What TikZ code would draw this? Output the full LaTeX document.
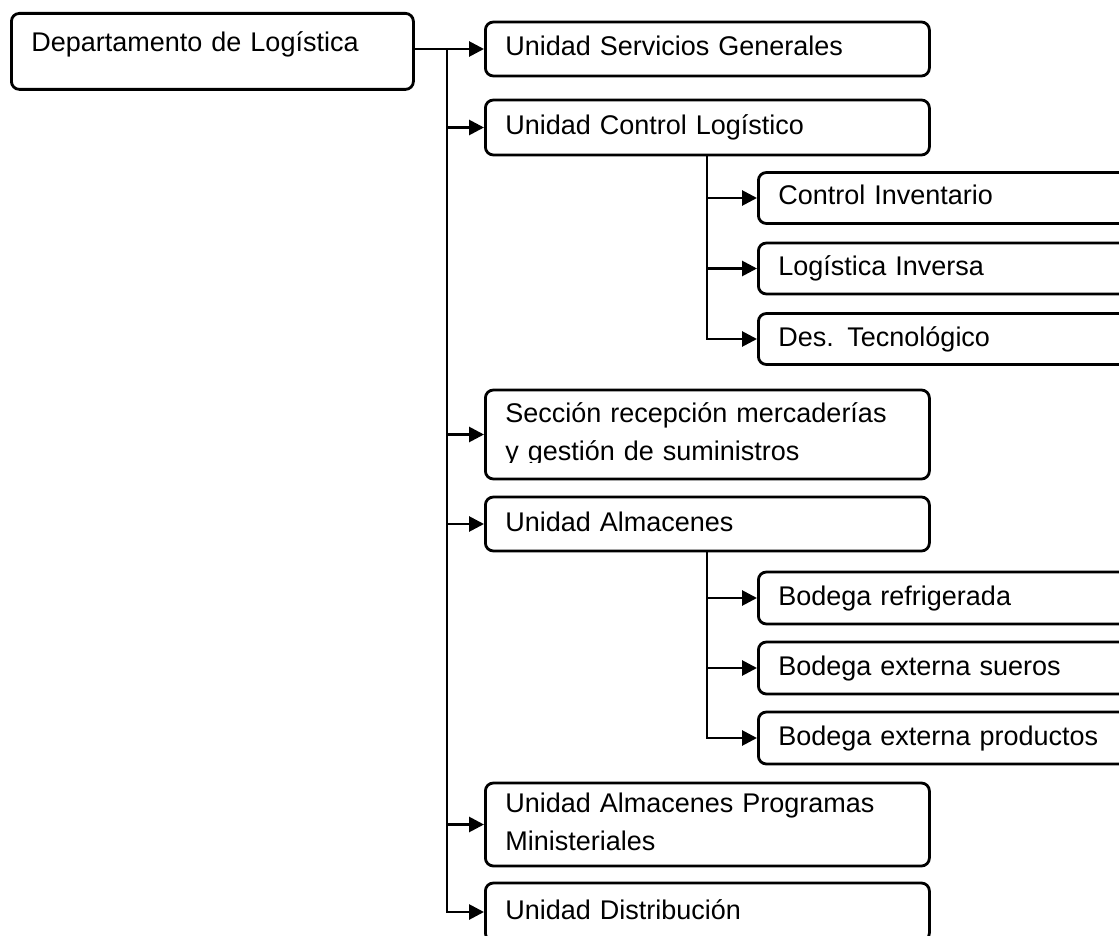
\documentclass[tikz,border=0pt]{standalone}
\usepackage{fontspec}
\setmainfont{Liberation Sans}
\usetikzlibrary{arrows.meta}
\begin{document}
\begin{tikzpicture}[x=1pt,y=-1pt,
  box/.style={draw=black, line width=2.8pt, rounded corners=8pt, fill=white,
    anchor=west, inner xsep=20pt, inner ysep=0pt, align=left,
    font=\fontsize{27}{38}\selectfont, text height=20pt, text depth=6pt},
  unit/.style={box, text width=404pt},
  sub/.style={box, text width=343pt},
  twoline/.style={text depth=44pt},
  link/.style={line width=2.8pt, -{Triangle[length=15pt,width=15pt]}}]

\useasboundingbox (0,0) rectangle (1119,936);
\fill[white] (0,0) rectangle (1119,936);
\clip (0,0) rectangle (1119,936);

% department and its units
\node[box, text width=362pt, minimum height=76pt, text depth=20.6pt,
      anchor=north west] (root) at (10,12) {Departamento de Logística};
\node[unit, minimum height=54pt] (serv) at (484,49) {Unidad Servicios Generales};
\node[unit, minimum height=55pt] (ctrl) at (484,127.5) {Unidad Control Logístico};

% sections under the control unit
\node[sub, minimum height=51pt] (inv) at (757,198) {Control Inventario};
\node[sub, minimum height=51pt] (inver) at (757,268.5) {Logística Inversa};
\node[sub, minimum height=51pt] (tec) at (757,339) {Des. Tecnológico};

% reception box, with the descenders of its second line cut off
\begin{scope}[even odd rule]
  \clip (0,0) rectangle (1119,936) (490,462.5) rectangle (920,475);
  \node[unit, twoline, minimum height=89pt] (rec) at (484,434.5)
    {Sección recepción mercaderías\\y gestión de suministros};
\end{scope}

\node[unit, minimum height=54pt] (alm) at (484,524) {Unidad Almacenes};

% warehouses
\node[sub, minimum height=52pt] (bref) at (757,598) {Bodega refrigerada};
\node[sub, minimum height=52pt] (bsue) at (757,668) {Bodega externa sueros};
\node[sub, minimum height=52pt] (bpro) at (757,738) {Bodega externa productos};

\node[unit, twoline, minimum height=83pt] (prog) at (484,824.5)
  {Unidad Almacenes Programas\\Ministeriales};
\node[unit, minimum height=58pt] (dist) at (484,912) {Unidad Distribución};

% main trunk
\coordinate (t0) at (447,49);
\draw[link] (root.east |- serv.west) -- (serv.west);
\draw[link] (t0) |- (dist.west);
\foreach \n in {ctrl,rec,alm,prog}
  \draw[link] (t0 |- \n.west) -- (\n.west);

% branch of the control unit
\coordinate (s0) at (707,155);
\draw[link] (s0) |- (tec.west);
\foreach \n in {inv,inver}
  \draw[link] (s0 |- \n.west) -- (\n.west);

% branch of the warehouses unit
\coordinate (s1) at (707,551);
\draw[link] (s1) |- (bpro.west);
\foreach \n in {bref,bsue}
  \draw[link] (s1 |- \n.west) -- (\n.west);
\end{tikzpicture}
\end{document}
